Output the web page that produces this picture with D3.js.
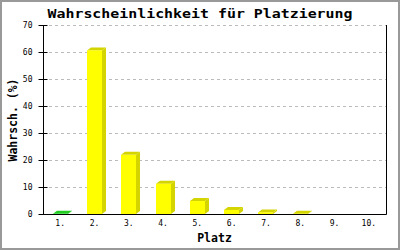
<!DOCTYPE html>
<html>
<head>
<meta charset="utf-8">
<script src="https://cdn.jsdelivr.net/npm/d3@7"></script>
<style>
  body { margin: 0; background: #fff; }
  svg { display: block; }
</style>
</head>
<body>
<div id="chart"></div>
<script>
// data
const places = ["1.", "2.", "3.", "4.", "5.", "6.", "7.", "8.", "9.", "10."];
const percent = [0.1, 60.6, 21.9, 11.2, 4.8, 1.5, 0.6, 0.1, 0, 0];
const yTicks = [0, 10, 20, 30, 40, 50, 60, 70];

const W = 400, H = 250;
const margin = {top: 25, right: 14, bottom: 36, left: 43};

const svg = d3.select("#chart")
  .append("svg")
    .attr("width", W)
    .attr("height", H);

svg.append("rect")
  .attr("width", W).attr("height", H)
  .attr("fill", "#fff");

// outer frame
svg.append("rect")
  .attr("x", 1).attr("y", 1)
  .attr("width", W - 2).attr("height", H - 2)
  .attr("fill", "none")
  .attr("stroke", "#999")
  .attr("stroke-width", 2);

var x = d3.scaleBand()
  .domain(places)
  .range([margin.left, W - margin.right]);

var y = d3.scaleLinear()
  .domain([0, 70])
  .range([H - margin.bottom, margin.top]);

// grid
svg.append("g")
  .selectAll("line")
  .data(yTicks.filter(d => d > 0))
  .enter().append("line")
    .attr("x1", margin.left)
    .attr("x2", W - margin.right)
    .attr("y1", d => Math.round(y(d)) + 0.5)
    .attr("y2", d => Math.round(y(d)) + 0.5)
    .attr("stroke", "#bbb")
    .attr("stroke-dasharray", "3,3");

// bars, pseudo 3d
const barW = 15, dx = 4, dy = 3;
var bars = svg.append("g");
percent.forEach(function(v, i) {
  if (v <= 0) return;
  var x0 = Math.round(x(places[i]) + (x.bandwidth() - barW) / 2);
  var yv = y(v), yb = y(0);
  var light = i === 0 ? "#33ee33" : "#ffff00";
  var dark = i === 0 ? "#22cc22" : "#d4d400";
  bars.append("polygon")
    .attr("points", [[x0 + barW, yv], [x0 + barW + dx, yv - dy], [x0 + barW + dx, yb - dy], [x0 + barW, yb]].join(" "))
    .attr("fill", dark);
  bars.append("polygon")
    .attr("points", [[x0, yv], [x0 + dx, yv - dy], [x0 + barW + dx, yv - dy], [x0 + barW, yv]].join(" "))
    .attr("fill", dark);
  bars.append("rect")
    .attr("x", x0)
    .attr("y", yv)
    .attr("width", barW)
    .attr("height", yb - yv)
    .attr("fill", light);
});

// left axis
var yAxis = svg.append("g")
  .attr("transform", "translate(" + (margin.left + 0.5) + ",0)")
  .call(d3.axisLeft(y).tickValues(yTicks).tickSize(5).tickSizeInner(0).tickPadding(11));
yAxis.select(".domain").remove();
yAxis.selectAll(".tick line").remove();
yAxis.selectAll(".tick").append("line")
  .attr("x1", -5).attr("x2", 4)
  .attr("stroke", "#000");
yAxis.selectAll("text")
  .attr("font-family", "DejaVu Sans Mono")
  .attr("font-size", "8px")
  .attr("fill", "#000");

// frame lines: left, bottom, right
svg.append("path")
  .attr("d", "M" + (margin.left + 0.5) + "," + y(70) + "V" + (Math.round(y(0)) + 0.5) +
             "H" + (W - margin.right + 0.5) + "V" + y(70))
  .attr("fill", "none")
  .attr("stroke", "#000");

// x labels
svg.append("g")
  .selectAll("text")
  .data(places)
  .enter().append("text")
    .attr("x", d => x(d) + x.bandwidth() / 2)
    .attr("y", 225.5)
    .attr("text-anchor", "middle")
    .attr("font-family", "DejaVu Sans Mono")
    .attr("font-size", "8px")
    .text(d => d);

// titles
svg.append("text")
  .attr("x", 200)
  .attr("y", 17.5)
  .attr("text-anchor", "middle")
  .attr("font-family", "DejaVu Sans Mono")
  .attr("font-weight", "bold")
  .attr("font-size", "12px")
  .attr("textLength", 305)
  .attr("lengthAdjust", "spacingAndGlyphs")
  .text("Wahrscheinlichkeit für Platzierung");

svg.append("text")
  .attr("x", 214.5)
  .attr("y", 242.3)
  .attr("text-anchor", "middle")
  .attr("font-family", "DejaVu Sans Mono")
  .attr("font-weight", "bold")
  .attr("font-size", "11.5px")
  .text("Platz");

svg.append("text")
  .attr("transform", "translate(16.5,120) rotate(-90)")
  .attr("text-anchor", "middle")
  .attr("font-family", "DejaVu Sans Mono")
  .attr("font-weight", "bold")
  .attr("font-size", "11.5px")
  .text("Wahrsch. (%)");
</script>
</body>
</html>
